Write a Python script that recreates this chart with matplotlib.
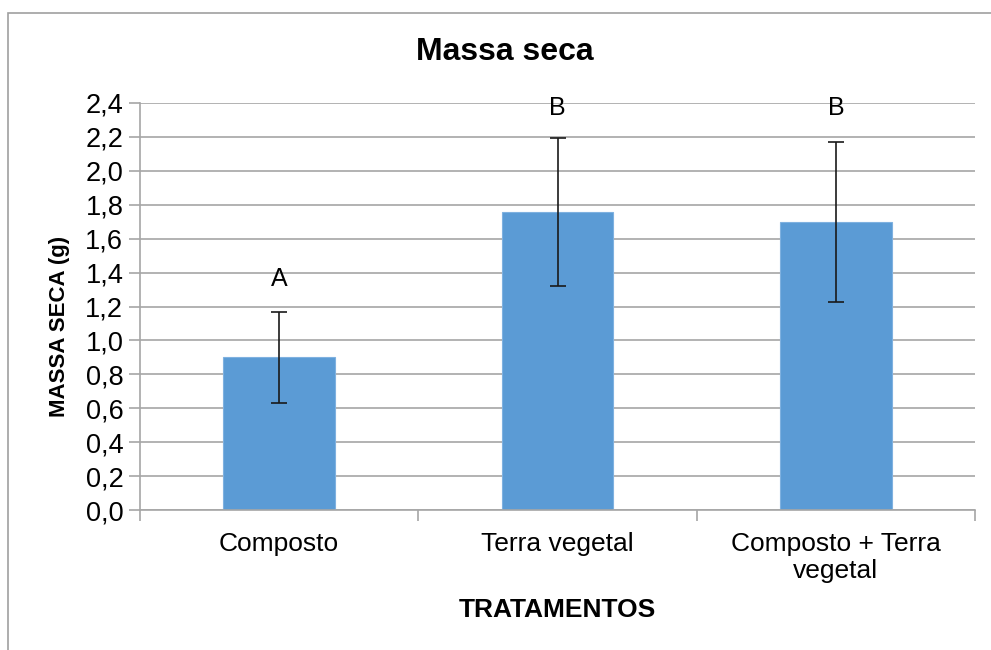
import matplotlib.pyplot as plt
from matplotlib.patches import Rectangle

plt.rcParams['font.family'] = ['Liberation Sans', 'DejaVu Sans']

categorias = ['Composto', 'Terra vegetal', 'Composto + Terra\nvegetal']
massa = [0.90, 1.755, 1.70]
erro = [0.27, 0.437, 0.472]
letras = ['A', 'B', 'B']
letra_y = [1.36, 2.37, 2.37]
yticks = [0.0, 0.2, 0.4, 0.6, 0.8, 1.0, 1.2, 1.4, 1.6, 1.8, 2.0, 2.2, 2.4]

fig = plt.figure(figsize=(9.91, 6.5), dpi=100)
ax = fig.add_axes([140 / 991, 1 - 510 / 650, (975 - 140) / 991, (510 - 103) / 650])

x = range(len(categorias))
ax.bar(x, massa, width=0.40, color='#5b9bd5', edgecolor='#7fb1e0', linewidth=0.8, zorder=2)
ax.errorbar(x, massa, yerr=erro, fmt='none', ecolor='#1a1a1a', elinewidth=1.2,
            capsize=6, capthick=1.2, zorder=3)
for i, (t, ly) in enumerate(zip(letras, letra_y)):
    ax.text(i, ly, t, ha='center', va='center', fontsize=18)

ax.set_xlim(-0.5, 2.5)
ax.set_ylim(0, 2.4)
ax.set_yticks(yticks)
ax.set_yticklabels([f'{v:.1f}'.replace('.', ',') for v in yticks], fontsize=19.5)
ax.yaxis.grid(True, color='#a6a6a6', linewidth=1.2, zorder=0)
ax.set_axisbelow(True)

ax.set_xticks([-0.5, 0.5, 1.5, 2.5])
ax.set_xticklabels([])
ax.set_xticks(list(x), minor=True)
ax.set_xticklabels(categorias, minor=True, fontsize=19, linespacing=1.15)
ax.tick_params(axis='x', which='minor', length=0, pad=16)
ax.tick_params(axis='x', which='major', length=8, color='#a6a6a6', width=1.2)
ax.tick_params(axis='y', length=8, color='#a6a6a6', width=1.2, pad=4)

for s in ['top', 'right']:
    ax.spines[s].set_visible(False)
for s in ['left', 'bottom']:
    ax.spines[s].set_color('#a6a6a6')
    ax.spines[s].set_linewidth(1.2)

ax.set_ylabel('MASSA SECA (g)', fontsize=16, fontweight='bold')
ax.yaxis.set_label_coords(-0.084, 0.452)
ax.set_xlabel('TRATAMENTOS', fontsize=19, fontweight='bold', labelpad=11)
fig.text(505 / 991, 1 - 52 / 650, 'Massa seca', fontsize=23, fontweight='bold',
         ha='center', va='center')

fig.patches.append(Rectangle((8 / 991, -0.1), 1.1, 1.1 - 13 / 650, transform=fig.transFigure,
                             fill=False, edgecolor='#a0a0a0', linewidth=1.2))

fig.savefig('out.png', dpi=100)
